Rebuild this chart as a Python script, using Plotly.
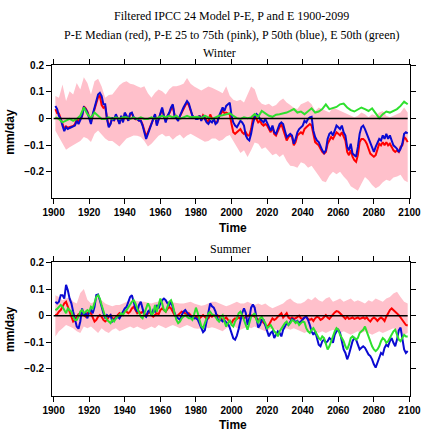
import plotly.graph_objects as go

years = list(range(1901, 2100))          # annual series
years_odd = list(range(1901, 2100, 2))   # biennial series

# ---------------- Winter ----------------
winter_blue = [
    0.047, 0.035, 0.010, -0.002, -0.027, -0.048, -0.033, -0.040, -0.036, -0.033,
    -0.031, -0.027, -0.009, -0.021, -0.006, 0.010, 0.041, 0.035, 0.022, 0.004,
    -0.021, 0.016, 0.041, 0.072, 0.090, 0.096, 0.084, 0.053, 0.053, -0.002,
    -0.033, -0.021, 0.004, -0.009, 0.016, -0.002, -0.021, 0.010, -0.015, 0.022,
    0.010, -0.009, 0.019, 0.022, 0.004, -0.002, -0.002, -0.009, -0.009, -0.027,
    -0.052, -0.077, -0.058, -0.040, -0.027, -0.002, 0.016, -0.027, -0.002, 0.016,
    0.041, 0.010, -0.015, 0.010, 0.022, 0.041, 0.053, 0.010, -0.002, -0.009,
    0.010, 0.028, 0.041, 0.053, 0.065, 0.056, 0.028, 0.010, 0.004, -0.002,
    -0.002, 0.010, -0.009, 0.010, -0.002, -0.015, -0.021, -0.009, -0.015, -0.002,
    -0.021, -0.015, 0.010, 0.028, 0.041, 0.028, 0.047, 0.053, 0.059, 0.010,
    -0.015, -0.027, -0.033, -0.021, -0.009, -0.015, -0.027, -0.064, -0.077, -0.083,
    -0.058, -0.021, 0.004, 0.016, 0.010, -0.002, -0.009, -0.015, -0.002, -0.015,
    -0.033, -0.046, -0.027, -0.052, -0.058, -0.040, -0.021, -0.015, -0.021, -0.046,
    -0.070, -0.064, -0.058, -0.064, -0.095, -0.077, -0.052, -0.040, -0.033, -0.027,
    -0.009, -0.015, -0.002, 0.004, 0.006, -0.046, -0.070, -0.083, -0.089, -0.107,
    -0.120, -0.130, -0.120, -0.077, -0.058, -0.052, -0.064, -0.046, -0.027, -0.033,
    -0.040, -0.027, -0.052, -0.064, -0.107, -0.120, -0.095, -0.132, -0.138, -0.144,
    -0.107, -0.058, -0.033, -0.027, -0.040, -0.058, -0.077, -0.095, -0.114, -0.126,
    -0.107, -0.089, -0.077, -0.083, -0.064, -0.077, -0.058, -0.077, -0.064, -0.083,
    -0.101, -0.107, -0.114, -0.126, -0.114, -0.095, -0.058, -0.052, -0.056,
]
winter_red = [
    0.035, 0.020, 0.018, 0.002, -0.020, -0.038, -0.030, -0.035, -0.033, -0.030,
    -0.028, -0.022, 0.000, -0.012, -0.004, 0.008, 0.045, 0.038, 0.025, 0.005,
    -0.015, 0.012, 0.035, 0.060, 0.080, 0.085, 0.050, 0.040, 0.045, 0.000,
    -0.028, -0.018, 0.002, -0.006, 0.012, -0.002, -0.018, 0.008, -0.012, 0.018,
    0.008, -0.008, 0.015, 0.018, 0.003, -0.003, -0.002, -0.008, -0.008, -0.022,
    -0.045, -0.068, -0.052, -0.035, -0.024, 0.000, 0.014, -0.022, 0.000, 0.014,
    0.035, 0.010, -0.010, 0.008, 0.018, 0.035, 0.045, 0.010, 0.000, -0.005,
    0.008, 0.024, 0.035, 0.048, 0.060, 0.050, 0.025, 0.010, 0.004, 0.000,
    0.000, 0.010, -0.005, 0.012, 0.004, -0.008, -0.014, 0.015, 0.000, -0.004,
    -0.018, -0.012, 0.006, 0.018, 0.028, 0.020, 0.022, 0.018, 0.015, -0.021,
    -0.052, -0.058, -0.052, -0.046, -0.040, -0.052, -0.058, -0.052, -0.064, -0.064,
    -0.040, -0.002, 0.010, -0.002, -0.015, -0.009, -0.021, -0.027, -0.021, -0.027,
    -0.040, -0.052, -0.033, -0.058, -0.064, -0.046, -0.033, -0.021, -0.040, -0.064,
    -0.083, -0.070, -0.064, -0.070, -0.101, -0.089, -0.064, -0.058, -0.052, -0.058,
    -0.040, -0.033, -0.027, -0.021, -0.027, -0.064, -0.089, -0.095, -0.101, -0.114,
    -0.126, -0.132, -0.126, -0.095, -0.083, -0.070, -0.077, -0.064, -0.052, -0.058,
    -0.064, -0.052, -0.070, -0.083, -0.126, -0.138, -0.120, -0.144, -0.157, -0.163,
    -0.138, -0.089, -0.077, -0.077, -0.083, -0.095, -0.114, -0.132, -0.138, -0.144,
    -0.138, -0.114, -0.095, -0.101, -0.089, -0.101, -0.089, -0.101, -0.095, -0.107,
    -0.120, -0.126, -0.120, -0.126, -0.107, -0.101, -0.070, -0.077, -0.089,
]
winter_green = [
    0.004, -0.002, -0.015, -0.009, -0.002, -0.009, -0.002, 0.010, 0.041, 0.016,
    0.001, 0.022, 0.010, -0.002, -0.002, 0.004, -0.002, 0.004, -0.002, 0.004,
    0.004, -0.002, 0.004, -0.002, 0.004, -0.002, -0.002, 0.004, -0.002, 0.004,
    0.010, 0.004, 0.010, 0.004, 0.010, -0.002, 0.004, 0.010, 0.004, 0.004,
    0.006, 0.001, 0.010, 0.004, -0.002, 0.004, 0.010, 0.012, 0.016, 0.019,
    0.010, 0.001, -0.002, 0.004, 0.001, 0.004, 0.016, 0.006, 0.028, 0.019,
    0.010, 0.006, 0.014, 0.016, 0.019, 0.022, 0.028, 0.035, 0.022, 0.026,
    0.016, 0.028, 0.038, 0.022, 0.026, 0.035, 0.053, 0.035, 0.038, 0.043,
    0.053, 0.056, 0.041, 0.031, 0.026, 0.035, 0.041, 0.035, 0.028, 0.038,
    0.019, 0.001, 0.016, 0.026, 0.022, 0.028, 0.035, 0.047, 0.063, 0.053,
]
winter_p75 = [
    0.084, 0.078, 0.127, 0.065, 0.102, 0.090, 0.133, 0.109, 0.155, 0.133,
    0.090, 0.140, 0.149, 0.120, 0.078, 0.088, 0.090, 0.110, 0.125, 0.135,
    0.140, 0.130, 0.127, 0.121, 0.115, 0.121, 0.095, 0.078, 0.096, 0.109,
    0.102, 0.090, 0.110, 0.121, 0.121, 0.125, 0.130, 0.152, 0.130, 0.120,
    0.112, 0.105, 0.112, 0.120, 0.115, 0.110, 0.102, 0.095, 0.121, 0.085,
    0.070, 0.065, 0.070, 0.060, 0.090, 0.120, 0.110, 0.070, 0.055, 0.050,
    0.055, 0.045, 0.050, 0.065, 0.075, 0.060, 0.050, 0.040, 0.035, 0.053,
    0.059, 0.065, 0.053, 0.028, 0.041, 0.035, 0.028, 0.022, 0.041, 0.035,
    0.028, 0.022, 0.016, 0.010, 0.004, 0.010, 0.022, 0.016, 0.004, 0.016,
    0.010, 0.022, 0.028, 0.010, 0.004, 0.010, 0.016, 0.022, 0.041, 0.022,
]
winter_p25 = [
    -0.046, -0.070, -0.089, -0.118, -0.108, -0.101, -0.095, -0.085, -0.070, -0.075,
    -0.089, -0.058, -0.045, -0.060, -0.075, -0.085, -0.085, -0.095, -0.105, -0.090,
    -0.075, -0.070, -0.064, -0.065, -0.070, -0.085, -0.105, -0.095, -0.080, -0.065,
    -0.058, -0.068, -0.065, -0.080, -0.068, -0.060, -0.075, -0.064, -0.058, -0.066,
    -0.075, -0.080, -0.088, -0.085, -0.075, -0.075, -0.085, -0.080, -0.068, -0.062,
    -0.085, -0.110, -0.130, -0.120, -0.145, -0.120, -0.090, -0.095, -0.115, -0.108,
    -0.125, -0.138, -0.132, -0.145, -0.135, -0.160, -0.178, -0.180, -0.185, -0.165,
    -0.170, -0.185, -0.178, -0.195, -0.215, -0.235, -0.240, -0.215, -0.200, -0.210,
    -0.200, -0.218, -0.232, -0.255, -0.265, -0.272, -0.245, -0.220, -0.232, -0.250,
    -0.262, -0.255, -0.240, -0.230, -0.235, -0.222, -0.218, -0.212, -0.232, -0.240,
]

# ---------------- Summer ----------------
summer_blue = [
    0.052, 0.046, 0.052, 0.077, 0.077, 0.064, 0.116, 0.095, 0.064, 0.046,
    0.015, -0.010, -0.041, -0.049, -0.022, 0.027, 0.002, 0.009, -0.010, 0.015,
    0.021, 0.009, 0.033, 0.077, 0.079, 0.058, 0.027, 0.009, -0.010, 0.002,
    -0.004, 0.002, -0.022, -0.016, -0.007, -0.004, -0.010, 0.002, 0.015, 0.027,
    0.033, 0.052, 0.070, 0.077, 0.052, 0.027, 0.015, 0.040, 0.052, 0.027,
    0.002, -0.004, 0.015, 0.021, 0.002, 0.021, 0.015, 0.040, 0.027, 0.046,
    0.058, 0.064, 0.058, 0.046, 0.040, 0.052, 0.027, 0.009, -0.004, -0.010,
    -0.016, 0.002, 0.015, 0.021, 0.009, 0.002, -0.004, -0.005, -0.010, -0.010,
    -0.015, -0.030, -0.050, -0.062, -0.055, -0.020, 0.020, 0.046, 0.035, 0.030,
    0.015, -0.010, -0.020, -0.015, -0.022, -0.018, -0.025, -0.030, -0.045, -0.065,
    -0.085, -0.090, -0.075, -0.050, -0.020, 0.010, 0.027, 0.010, -0.035, -0.010,
    0.030, 0.042, 0.030, -0.010, -0.045, -0.035, -0.016, -0.016, -0.035, -0.053,
    -0.078, -0.065, -0.059, -0.084, -0.072, -0.059, -0.065, -0.078, -0.053, -0.041,
    -0.028, -0.035, -0.022, -0.012, -0.016, -0.025, -0.020, -0.028, -0.022, -0.012,
    -0.007, -0.004, -0.016, -0.035, -0.059, -0.072, -0.059, -0.084, -0.109, -0.115,
    -0.096, -0.090, -0.102, -0.096, -0.084, -0.090, -0.102, -0.072, -0.059, -0.053,
    -0.065, -0.096, -0.127, -0.140, -0.164, -0.146, -0.115, -0.096, -0.084, -0.090,
    -0.109, -0.127, -0.121, -0.115, -0.121, -0.133, -0.146, -0.152, -0.164, -0.183,
    -0.195, -0.177, -0.158, -0.140, -0.146, -0.121, -0.109, -0.115, -0.096, -0.084,
    -0.102, -0.115, -0.090, -0.055, -0.045, -0.096, -0.127, -0.140, -0.133,
]
summer_green = [
    0.021, 0.025, 0.033, 0.040, 0.033, 0.021, 0.009, 0.027, 0.021, 0.015,
    -0.004, -0.016, -0.016, -0.004, 0.015, 0.021, 0.009, 0.015, 0.021, 0.015,
    0.033, 0.027, 0.052, 0.070, 0.077, 0.064, 0.040, 0.015, -0.004, -0.016,
    -0.022, -0.028, -0.016, -0.022, -0.010, -0.004, 0.002, 0.009, 0.002, 0.015,
    0.021, 0.033, 0.040, 0.052, 0.058, 0.046, 0.027, 0.009, -0.004, -0.010,
    0.009, 0.027, 0.046, 0.033, 0.002, 0.009, 0.040, 0.015, 0.046, 0.064,
    0.046, 0.021, 0.015, 0.033, 0.052, 0.058, 0.040, 0.009, -0.016, -0.028,
    -0.022, -0.010, -0.004, 0.002, -0.004, -0.010, -0.010, -0.016, 0.005, 0.030,
    0.010, -0.020, -0.040, -0.047, -0.028, -0.004, 0.009, 0.015, 0.005, 0.002,
    -0.004, -0.016, -0.022, -0.004, 0.002, -0.022, -0.041, -0.028, -0.016, -0.035,
    -0.041, -0.022, -0.010, 0.009, 0.015, 0.002, -0.016, -0.035, -0.053, -0.028,
    -0.004, 0.002, 0.009, -0.016, -0.028, -0.010, -0.004, -0.016, -0.028, -0.047,
    -0.041, -0.035, -0.047, -0.059, -0.065, -0.078, -0.059, -0.047, -0.035, -0.028,
    -0.022, -0.035, -0.028, -0.016, -0.020, -0.028, -0.022, -0.035, -0.028, -0.022,
    -0.025, -0.047, -0.059, -0.065, -0.053, -0.047, -0.059, -0.072, -0.084, -0.090,
    -0.078, -0.084, -0.109, -0.127, -0.115, -0.096, -0.072, -0.059, -0.047, -0.053,
    -0.072, -0.084, -0.096, -0.115, -0.127, -0.109, -0.084, -0.078, -0.084, -0.090,
    -0.084, -0.065, -0.059, -0.053, -0.041, -0.059, -0.084, -0.102, -0.115, -0.127,
    -0.133, -0.127, -0.115, -0.096, -0.084, -0.090, -0.102, -0.096, -0.084, -0.072,
    -0.059, -0.053, -0.072, -0.090, -0.096, -0.084, -0.072, -0.078, -0.078,
]
summer_red = [
    0.002, 0.005, 0.015, 0.021, 0.033, 0.046, 0.052, 0.033, 0.009, -0.010,
    -0.022, -0.016, -0.004, 0.005, 0.002, 0.009, 0.002, -0.004, 0.009, 0.015,
    0.009, -0.010, -0.022, -0.016, -0.004, 0.002, -0.004, -0.016, -0.022, -0.016,
    -0.004, 0.002, -0.010, -0.012, -0.004, 0.002, 0.009, 0.002, 0.009, 0.017,
    0.015, 0.009, 0.015, 0.027, 0.033, 0.021, 0.009, 0.015, 0.009, 0.015,
    0.009, -0.004, 0.009, 0.015, 0.002, -0.004, 0.002, 0.009, 0.005, 0.021,
    0.027, 0.021, 0.015, 0.025, 0.033, 0.027, 0.015, 0.002, -0.004, 0.002,
    0.009, 0.015, 0.012, 0.009, 0.002, 0.009, 0.002, -0.007, -0.010, -0.004,
    -0.007, -0.010, -0.004, 0.002, -0.004, -0.012, -0.010, 0.002, -0.004, 0.002,
    -0.004, 0.002, -0.004, -0.010, -0.016, -0.012, -0.007, -0.016, -0.022, -0.028,
    -0.016, -0.010, -0.012, -0.007, -0.012, -0.004, -0.010, -0.007, -0.004, 0.002,
    0.000, 0.002, -0.004, -0.010, -0.016, -0.012, -0.020, -0.028, -0.035, -0.041,
    -0.035, -0.022, -0.010, -0.016, -0.012, -0.004, 0.002, 0.009, -0.007, 0.002,
    0.009, -0.007, -0.012, -0.007, -0.012, -0.010, -0.004, 0.000, -0.010, -0.012,
    -0.007, -0.004, -0.012, -0.016, -0.012, -0.020, -0.010, -0.004, -0.007, -0.016,
    -0.012, -0.004, 0.002, -0.007, -0.012, -0.004, 0.005, 0.012, 0.017, 0.015,
    0.009, 0.002, -0.007, -0.012, -0.004, -0.012, -0.010, -0.007, -0.012, -0.010,
    -0.007, -0.012, -0.010, -0.007, -0.012, -0.007, -0.016, -0.022, -0.012, -0.007,
    -0.012, -0.020, -0.012, -0.007, -0.012, -0.020, -0.004, 0.009, 0.021, 0.027,
    0.021, 0.015, 0.009, 0.002, -0.007, -0.016, -0.022, -0.035, -0.037,
]
summer_p75 = [
    0.077, 0.070, 0.058, 0.064, 0.070, 0.052, 0.046, 0.085, 0.100, 0.060,
    0.046, 0.052, 0.070, 0.058, 0.046, 0.040, 0.035, 0.040, 0.040, 0.046,
    0.052, 0.058, 0.058, 0.055, 0.052, 0.052, 0.050, 0.046, 0.050, 0.052,
    0.055, 0.058, 0.052, 0.050, 0.046, 0.046, 0.046, 0.050, 0.052, 0.046,
    0.040, 0.037, 0.040, 0.046, 0.052, 0.052, 0.046, 0.040, 0.035, 0.040,
    0.046, 0.052, 0.046, 0.046, 0.052, 0.046, 0.040, 0.046, 0.040, 0.046,
    0.035, 0.028, 0.035, 0.040, 0.046, 0.058, 0.064, 0.052, 0.046, 0.046,
    0.052, 0.064, 0.058, 0.070, 0.058, 0.052, 0.064, 0.070, 0.052, 0.058,
    0.064, 0.052, 0.058, 0.064, 0.052, 0.058, 0.052, 0.046, 0.058, 0.052,
    0.064, 0.058, 0.052, 0.064, 0.070, 0.083, 0.090, 0.070, 0.052, 0.046,
]
summer_p25 = [
    -0.078, -0.059, -0.047, -0.035, -0.041, -0.047, -0.059, -0.065, -0.041, -0.047,
    -0.041, -0.053, -0.065, -0.047, -0.059, -0.065, -0.053, -0.047, -0.059, -0.053,
    -0.047, -0.041, -0.047, -0.041, -0.047, -0.053, -0.047, -0.041, -0.047, -0.035,
    -0.041, -0.047, -0.041, -0.035, -0.041, -0.047, -0.041, -0.035, -0.041, -0.047,
    -0.049, -0.047, -0.041, -0.047, -0.044, -0.047, -0.053, -0.059, -0.047, -0.041,
    -0.035, -0.047, -0.053, -0.047, -0.041, -0.047, -0.041, -0.047, -0.053, -0.059,
    -0.053, -0.047, -0.053, -0.059, -0.053, -0.047, -0.053, -0.047, -0.053, -0.059,
    -0.065, -0.059, -0.053, -0.059, -0.065, -0.059, -0.065, -0.059, -0.053, -0.059,
    -0.065, -0.059, -0.065, -0.072, -0.065, -0.059, -0.065, -0.059, -0.065, -0.072,
    -0.065, -0.059, -0.065, -0.059, -0.053, -0.047, -0.059, -0.065, -0.072, -0.065,
]

x_ticks = [1900, 1920, 1940, 1960, 1980, 2000, 2020, 2040, 2060, 2080, 2100]
y_ticks = [-0.2, -0.1, 0, 0.1, 0.2]
y_ticktext = ["\u22120.2", "\u22120.1", "0", "0.1", "0.2"]

PINK = "#FFC0CB"
RED = "#FF0000"
BLUE = "#0A0AD2"
GREEN = "#2EE02E"

fig = go.Figure()

def add_panel(xa, ya, p25, p75, red, blue, green, green_years):
    fig.add_trace(go.Scatter(x=years_odd, y=p25, xaxis=xa, yaxis=ya, mode="lines",
                             line=dict(width=0, color=PINK), hoverinfo="skip"))
    fig.add_trace(go.Scatter(x=years_odd, y=p75, xaxis=xa, yaxis=ya, mode="lines",
                             line=dict(width=0, color=PINK), fill="tonexty",
                             fillcolor=PINK, hoverinfo="skip"))
    fig.add_trace(go.Scatter(x=years, y=red, xaxis=xa, yaxis=ya, mode="lines",
                             line=dict(width=2, color=RED)))
    fig.add_trace(go.Scatter(x=years, y=blue, xaxis=xa, yaxis=ya, mode="lines",
                             line=dict(width=2, color=BLUE)))
    fig.add_trace(go.Scatter(x=green_years, y=green, xaxis=xa, yaxis=ya, mode="lines",
                             line=dict(width=2, color=GREEN)))
    fig.add_trace(go.Scatter(x=[years[0] - 1, years[-1]], y=[0, 0], xaxis=xa, yaxis=ya,
                             mode="lines", line=dict(width=1.5, color="black")))

add_panel("x", "y", winter_p25, winter_p75, winter_red, winter_blue, winter_green, years_odd)
add_panel("x2", "y2", summer_p25, summer_p75, summer_red, summer_blue, summer_green, years)

W, H = 426, 432
ML, MR = 52, 16
PW = W - ML - MR

def py(px):
    return 1 - px / H

def pxx(px):
    return (px - ML) / PW

tickfont = dict(family="Liberation Sans", size=10, color="black", weight="bold")
xcommon = dict(range=[1899.1, 2100.3], tickvals=x_ticks, ticks="outside", ticklen=5,
               tickwidth=1, tickcolor="black", showline=True, linecolor="black",
               linewidth=1, mirror="ticks", showgrid=False, zeroline=False,
               tickfont=tickfont)
ycommon = dict(range=[-0.3, 0.2], tickvals=y_ticks, ticktext=y_ticktext,
               ticks="outside", ticklen=5, tickwidth=1, tickcolor="black",
               showline=True, linecolor="black", linewidth=1, mirror="ticks",
               showgrid=False, zeroline=False, tickfont=tickfont)

fig.update_layout(
    width=W, height=H,
    margin=dict(l=ML, r=MR, t=0, b=0),
    paper_bgcolor="white", plot_bgcolor="white",
    showlegend=False,
    hovermode=False,
    xaxis=dict(domain=[0, 1], anchor="y", **xcommon),
    yaxis=dict(domain=[py(195), py(60)], anchor="x", **ycommon),
    xaxis2=dict(domain=[0, 1], anchor="y2", **xcommon),
    yaxis2=dict(domain=[py(395), py(260)], anchor="x2", **ycommon),
)

serif = dict(family="Liberation Serif", size=12, color="black")
bold = dict(family="Liberation Sans", size=12, color="black", weight="bold")
ann = [
    dict(text="Filtered IPCC 24 Model P-E, P and E 1900-2099", x=0.5, y=py(10), font=serif),
    dict(text="P-E Median (red), P-E 25 to 75th (pink), P 50th (blue), E 50th (green)",
         x=0.5, y=py(29), font=serif),
    dict(text="Winter", x=pxx(219), y=py(48), font=serif),
    dict(text="Summer", x=pxx(230), y=py(246), font=serif),
    dict(text="Time", x=pxx(233), y=py(225), font=bold),
    dict(text="Time", x=pxx(233), y=py(425), font=bold),
    dict(text="mm/day", x=pxx(10), y=py(127.5), font=bold, textangle=-90),
    dict(text="mm/day", x=pxx(10), y=py(327.5), font=bold, textangle=-90),
]
for a in ann:
    a.update(xref="paper", yref="paper", showarrow=False, xanchor="center", yanchor="middle")
fig.update_layout(annotations=ann)

fig.write_html("out.html",
               config={"displayModeBar": False, "staticPlot": True},
               post_script="document.body.style.margin='0px';document.body.style.overflow='hidden';")
